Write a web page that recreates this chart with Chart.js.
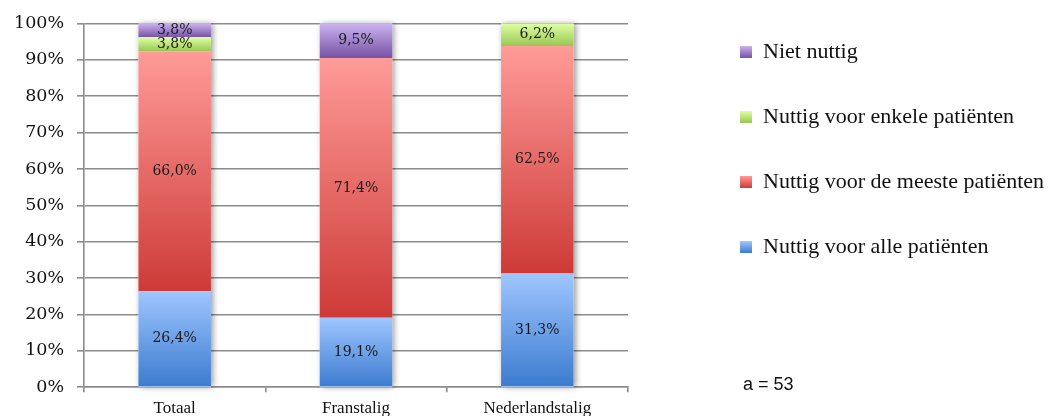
<!DOCTYPE html>
<html>
<head>
<meta charset="utf-8">
<script src="https://cdn.jsdelivr.net/npm/chart.js@4.4.1/dist/chart.umd.min.js"></script>
<style>
  html, body { margin: 0; padding: 0; background: #fff; }
</style>
</head>
<body>
<canvas id="nuttigheid" width="1050" height="416"></canvas>
<script>
const CATEGORIES = ['Totaal', 'Franstalig', 'Nederlandstalig'];
const SERIES_LABELS = [
  'Nuttig voor alle patiënten',
  'Nuttig voor de meeste patiënten',
  'Nuttig voor enkele patiënten',
  'Niet nuttig'
];
const ALLE = [26.4, 19.1, 31.3];
const MEESTE = [66.0, 71.4, 62.5];
const ENKELE = [3.8, 0, 6.2];
const NIET = [3.8, 9.5, 0];
const SAMPLE_NOTE = 'a = 53';

// light (top) -> dark (bottom) per series
const SHADES = [
  ['#9fc6ff', '#3b7bcf'],
  ['#ff9b98', '#cd3a37'],
  ['#e0ffa2', '#98c654'],
  ['#cbb3ef', '#7651a5']
];
const GRID = '#8c8c8c';
const LEGEND_BOX_X = 740;
const LEGEND_ROW_TOP = 41;
const LEGEND_FONT = 22;
const LEGEND_GAP = 43;

function fmt(v) {
  return v.toFixed(1).replace('.', ',') + '%';
}

function fade(ctx, top, bottom, shade) {
  const g = ctx.createLinearGradient(0, top, 0, bottom);
  g.addColorStop(0, shade[0]);
  g.addColorStop(1, shade[1]);
  return g;
}

// every stacked segment gets its own vertical gradient
function segmentFill(context) {
  const shade = SHADES[context.datasetIndex];
  if (context.type !== 'data') return shade[1];
  const chart = context.chart;
  const y = chart.scales.y;
  if (!y || !isFinite(y.top)) return shade[1];
  let start = 0;
  for (let k = 0; k < context.datasetIndex; k++) {
    start += chart.data.datasets[k].data[context.dataIndex];
  }
  const end = start + context.raw;
  const top = y.getPixelForValue(end);
  const bottom = y.getPixelForValue(start);
  if (!(bottom - top > 0)) return shade[1];
  return fade(chart.ctx, top, bottom, shade);
}

const seriesValues = [ALLE, MEESTE, ENKELE, NIET];
const datasets = seriesValues.map((values, i) => ({
  label: SERIES_LABELS[i],
  data: values,
  backgroundColor: segmentFill,
  borderWidth: 0,
  barPercentage: 0.8,
  categoryPercentage: 0.5
}));

// shadow behind each full stack
const stackShadow = {
  id: 'stackShadow',
  beforeDatasetsDraw(chart) {
    const ctx = chart.ctx;
    const y = chart.scales.y;
    const bars = chart.getDatasetMeta(0).data;
    bars.forEach((bar, i) => {
      let total = 0;
      chart.data.datasets.forEach(ds => { total += ds.data[i]; });
      const top = y.getPixelForValue(total);
      const bottom = y.getPixelForValue(0);
      ctx.save();
      ctx.shadowColor = 'rgba(0,0,0,0.4)';
      ctx.shadowBlur = 6;
      ctx.shadowOffsetX = 2;
      ctx.fillStyle = '#ffffff';
      ctx.fillRect(bar.x - bar.width / 2, top, bar.width, bottom - top);
      ctx.restore();
    });
  }
};

// percentage written in the middle of each segment
const segmentLabels = {
  id: 'segmentLabels',
  afterDatasetsDraw(chart) {
    const ctx = chart.ctx;
    ctx.save();
    ctx.font = '14px "DejaVu Serif"';
    ctx.fillStyle = '#1a1a1a';
    ctx.textAlign = 'center';
    ctx.textBaseline = 'middle';
    chart.data.datasets.forEach((ds, di) => {
      chart.getDatasetMeta(di).data.forEach((bar, i) => {
        const v = ds.data[i];
        if (!v) return;
        ctx.fillText(fmt(v), bar.x, (bar.y + bar.base) / 2);
      });
    });
    ctx.restore();
  }
};

// legend sits further right and higher than the default slot
const legendPlacement = {
  id: 'legendPlacement',
  afterLayout(chart) {
    const lg = chart.legend;
    const pad = lg.options.labels.padding;
    const dx = LEGEND_BOX_X - pad - lg.left;
    const dy = LEGEND_ROW_TOP - pad - lg.top;
    lg.left += dx; lg.right += dx;
    lg.top += dy; lg.bottom += dy;
  }
};

const sampleNote = {
  id: 'sampleNote',
  afterDraw(chart) {
    const ctx = chart.ctx;
    ctx.save();
    ctx.font = '18px "Liberation Sans"';
    ctx.fillStyle = '#111';
    ctx.textBaseline = 'alphabetic';
    ctx.fillText(SAMPLE_NOTE, 743, 390);
    ctx.restore();
  }
};

new Chart(document.getElementById('nuttigheid'), {
  type: 'bar',
  data: { labels: CATEGORIES, datasets: datasets },
  plugins: [stackShadow, segmentLabels, legendPlacement, sampleNote],
  options: {
    responsive: false,
    animation: false,
    layout: { padding: { left: 1, top: 23, right: 65, bottom: -8 } },
    plugins: {
      tooltip: { enabled: false },
      legend: {
        position: 'right',
        align: 'start',
        maxWidth: 420,
        labels: {
          boxWidth: 12,
          boxHeight: 12,
          padding: LEGEND_GAP,
          color: '#111',
          font: { family: 'Liberation Serif', size: LEGEND_FONT },
          generateLabels(chart) {
            const lg = chart.legend;
            const pad = lg.options.labels.padding;
            const order = [3, 2, 1, 0];
            return order.map((di, k) => {
              const shade = SHADES[di];
              let fill = shade[1];
              if (isFinite(lg.top)) {
                const boxTop = lg.top + pad + k * (LEGEND_FONT + pad) + (LEGEND_FONT - 12) / 2;
                fill = fade(chart.ctx, boxTop, boxTop + 12, shade);
              }
              return {
                text: SERIES_LABELS[di],
                fillStyle: fill,
                strokeStyle: 'rgba(0,0,0,0)',
                lineWidth: 0,
                fontColor: '#111',
                hidden: !chart.isDatasetVisible(di),
                datasetIndex: di
              };
            });
          }
        }
      }
    },
    scales: {
      x: {
        stacked: true,
        grid: { drawOnChartArea: false, color: GRID, lineWidth: 1.6, tickLength: 5 },
        border: { color: GRID, width: 1.6 },
        ticks: {
          color: '#111',
          padding: 9.5,
          font: { family: 'Liberation Serif', size: 17, lineHeight: 0.75 }
        }
      },
      y: {
        stacked: true,
        min: 0,
        max: 100,
        grid: { color: GRID, lineWidth: 1.6, tickLength: 7 },
        border: { color: GRID, width: 1.6 },
        ticks: {
          stepSize: 10,
          color: '#111',
          padding: 13,
          font: { family: 'DejaVu Serif', size: 17.5 },
          callback: v => v + '%'
        }
      }
    }
  }
});
</script>
</body>
</html>
